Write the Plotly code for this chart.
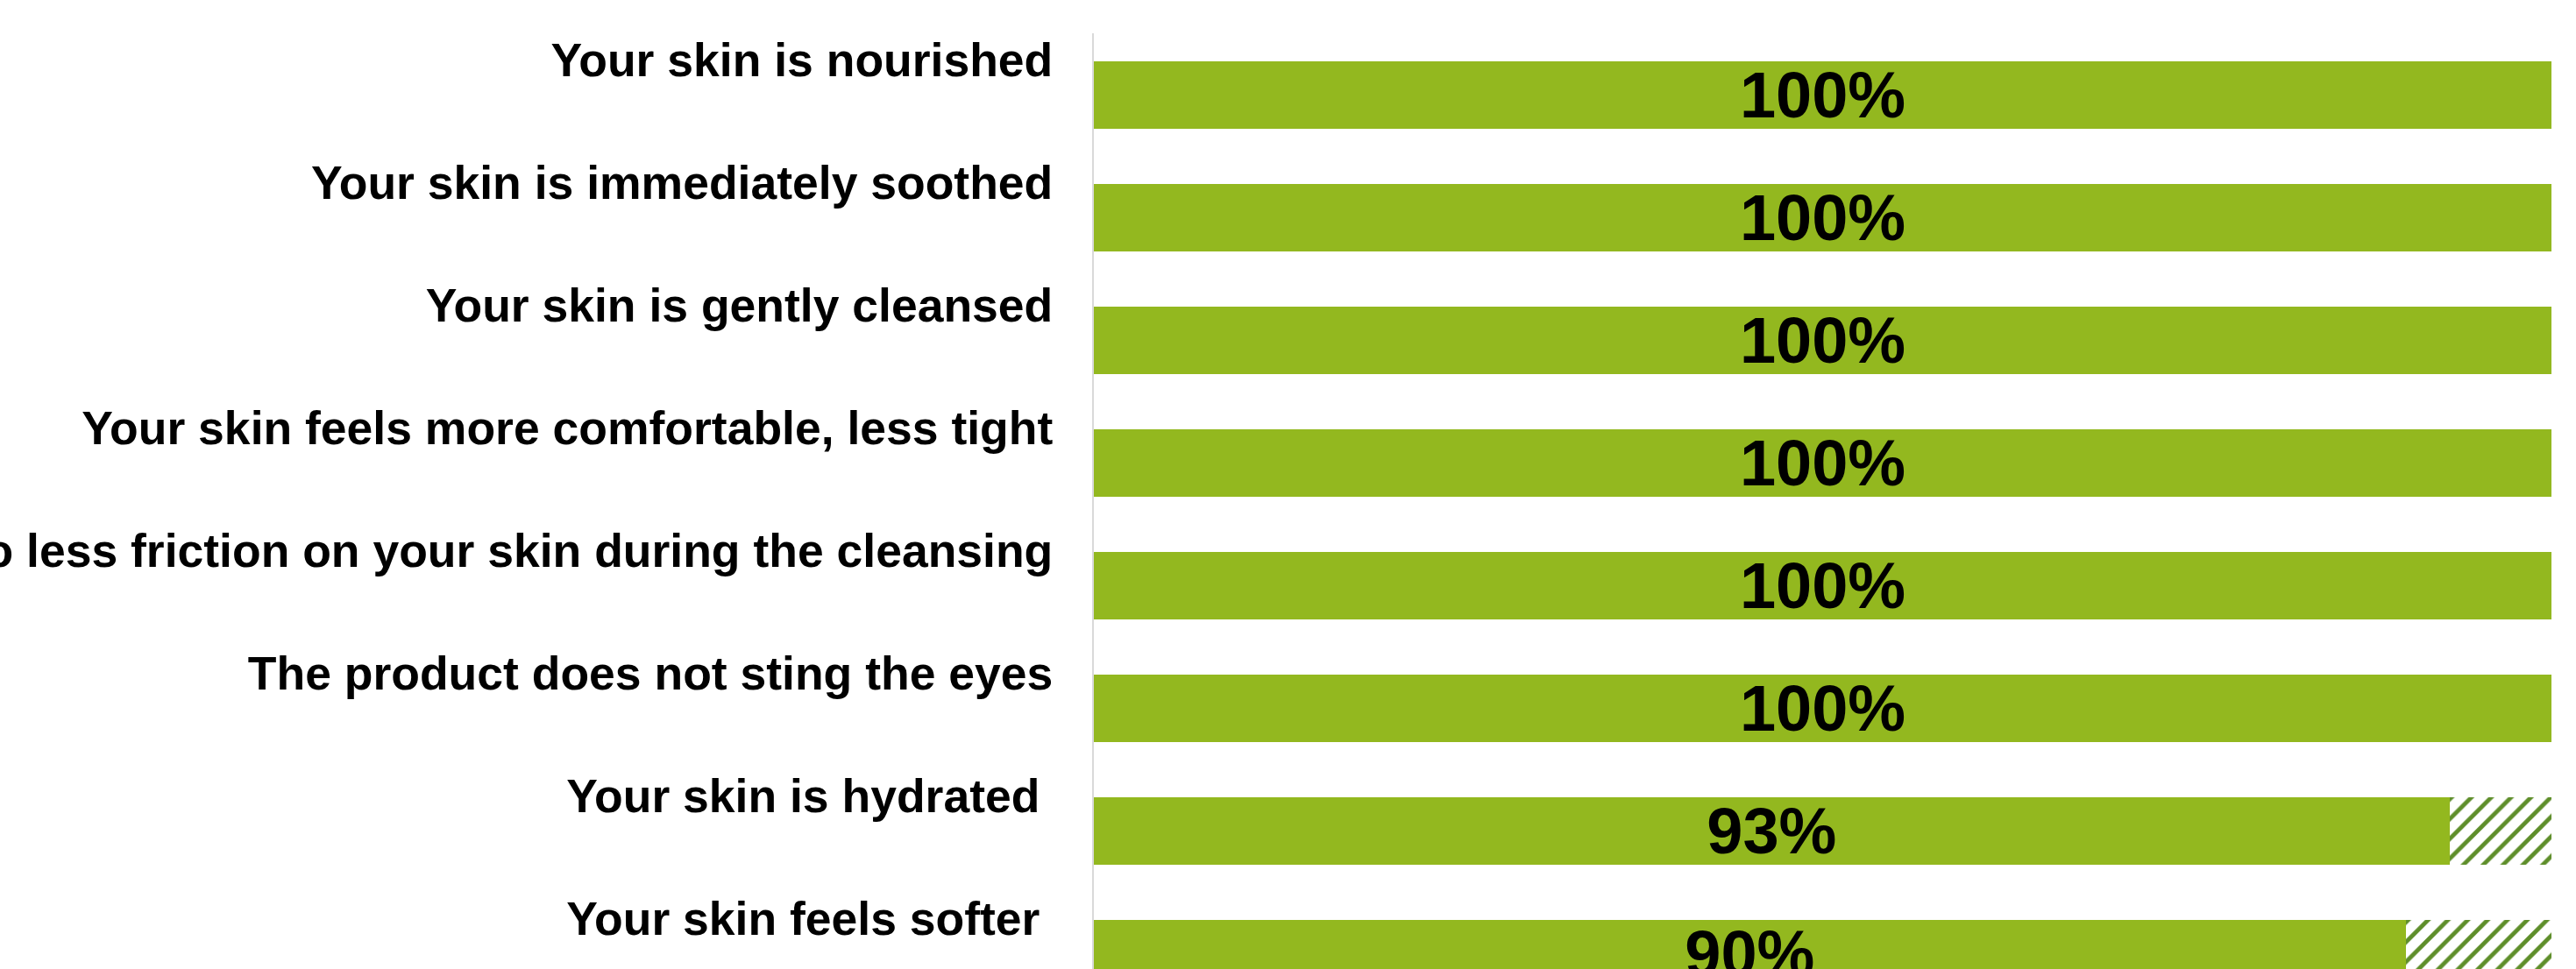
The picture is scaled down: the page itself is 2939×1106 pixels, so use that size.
import plotly.graph_objects as go

# Survey statements (top to bottom) and share of agreeing panelists (%)
statements = [
    "Your skin is nourished",
    "Your skin is immediately soothed",
    "Your skin is gently cleansed",
    "Your skin feels more comfortable, less tight",
    "There is also less friction on your skin during the cleansing",
    "The product does not sting the eyes",
    "Your skin is hydrated ",
    "Your skin feels softer ",
]
agree_pct = [100, 100, 100, 100, 100, 100, 93, 90]
remainder_pct = [100 - v for v in agree_pct]
value_labels = [f"{v}%" for v in agree_pct]

GREEN = "#93B81F"
HATCH = "#5E8E2A"
FONT = "Liberation Sans"

fig = go.Figure()

# Solid bars: share of agreement
fig.add_trace(go.Bar(
    y=statements,
    x=agree_pct,
    orientation="h",
    marker=dict(color=GREEN, line=dict(width=0)),
    text=value_labels,
    textposition="inside",
    insidetextanchor="middle",
    textangle=0,
    constraintext="none",
    textfont=dict(family=FONT, size=74, color="black", weight="bold"),
    hoverinfo="skip",
))

# Hatched remainder up to 100 %
fig.add_trace(go.Bar(
    y=statements,
    x=remainder_pct,
    orientation="h",
    marker=dict(
        color="white",
        line=dict(width=0),
        pattern=dict(shape="/", fgcolor=HATCH, bgcolor="white",
                     size=16, solidity=0.3, fillmode="replace"),
    ),
    hoverinfo="skip",
))

fig.update_layout(
    width=2939,
    height=1106,
    margin=dict(l=1248, r=28, t=38, b=0, autoexpand=False),
    barmode="stack",
    bargap=0.45,
    showlegend=False,
    plot_bgcolor="white",
    paper_bgcolor="white",
    font=dict(family=FONT, color="black"),
)

fig.update_xaxes(
    range=[0, 100],
    visible=False,
    showgrid=False,
    zeroline=False,
)

fig.update_yaxes(
    type="category",
    categoryorder="array",
    categoryarray=statements,
    range=[7.125, -0.5],
    showline=True,
    linecolor="#D9D9D9",
    linewidth=2,
    ticks="",
    showgrid=False,
    zeroline=False,
    automargin=False,
    ticklabelstandoff=34,
    ticklabelshift=40,
    tickfont=dict(family=FONT, size=53.5, color="black", weight="bold"),
)

fig.write_html("out.html")
